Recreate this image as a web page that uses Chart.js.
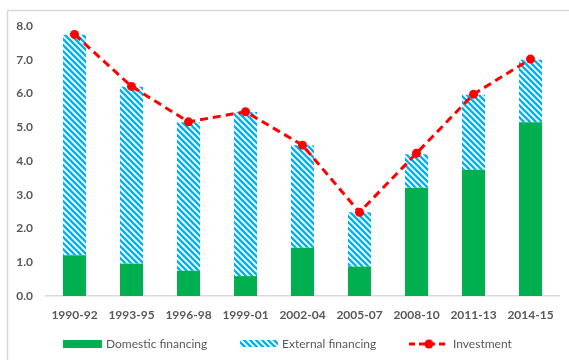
<!DOCTYPE html>
<html>
<head>
<meta charset="utf-8">
<script src="https://cdn.jsdelivr.net/npm/chart.js@4/dist/chart.umd.min.js"></script>
<style>
  html, body { margin: 0; padding: 0; background: #ffffff; }
  #wrap { width: 569px; height: 360px; position: relative; }
</style>
</head>
<body>
<div id="wrap"><canvas id="c" width="569" height="360"></canvas></div>
<script>
// Three-year averages, % of GDP
const categories = ['1990-92', '1993-95', '1996-98', '1999-01', '2002-04', '2005-07', '2008-10', '2011-13', '2014-15'];
const domesticFinancing = [1.21, 0.96, 0.75, 0.59, 1.43, 0.87, 3.21, 3.74, 5.15];
const externalFinancing = [6.53, 5.24, 4.40, 4.86, 3.04, 1.61, 0.99, 2.22, 1.85];
const investment = [7.75, 6.21, 5.16, 5.46, 4.47, 2.48, 4.23, 5.98, 7.02];
const yTickLabels = ['0.0', '1.0', '2.0', '3.0', '4.0', '5.0', '6.0', '7.0', '8.0'];

const GREEN = '#00B050';
const BLUE = '#00B0F0';
const RED = '#FF0000';
const TEXT = '#595959';
const FRAME = '#D9D9D9';
const FONT = 'Lato, "Open Sans", "DejaVu Sans", sans-serif';

// Downward-diagonal hatch fill
function makeHatch() {
  const p = 6;
  const c = document.createElement('canvas');
  c.width = p; c.height = p;
  const g = c.getContext('2d');
  g.strokeStyle = BLUE;
  g.lineWidth = 2.4;
  g.lineCap = 'square';
  for (const k of [-p, 0, p]) {
    g.beginPath();
    g.moveTo(k - 1, -1);
    g.lineTo(k + p + 1, p + 1);
    g.stroke();
  }
  return g.createPattern(c, 'repeat');
}
const hatch = makeHatch();

// Light border around the figure
const framePlugin = {
  id: 'frame',
  beforeDraw(chart) {
    const ctx = chart.ctx;
    ctx.save();
    ctx.strokeStyle = FRAME;
    ctx.lineWidth = 1.5;
    ctx.beginPath();
    ctx.moveTo(7.5, 360);
    ctx.lineTo(7.5, 10.5);
    ctx.lineTo(569, 10.5);
    ctx.stroke();
    ctx.restore();
  }
};

// Legend row along the bottom
const legendPlugin = {
  id: 'bottomLegend',
  afterDraw(chart) {
    const ctx = chart.ctx;
    const ds = chart.data.datasets;
    const y = 344;
    ctx.save();
    ctx.font = '12px ' + FONT;
    ctx.fillStyle = TEXT;
    ctx.textBaseline = 'middle';

    // Domestic financing
    ctx.fillStyle = ds[0].backgroundColor;
    ctx.fillRect(63, y - 4, 39, 8);
    ctx.fillStyle = TEXT;
    ctx.fillText(ds[0].label, 106, y + 0.5);

    // External financing
    ctx.fillStyle = ds[1].backgroundColor;
    ctx.fillRect(240, y - 4, 38, 7);
    ctx.fillStyle = TEXT;
    ctx.fillText(ds[1].label, 282, y + 0.5);

    // Investment
    ctx.strokeStyle = ds[2].borderColor;
    ctx.lineWidth = 3;
    ctx.setLineDash([6, 4]);
    ctx.beginPath();
    ctx.moveTo(409, y);
    ctx.lineTo(449, y);
    ctx.stroke();
    ctx.setLineDash([]);
    ctx.fillStyle = ds[2].borderColor;
    ctx.beginPath();
    ctx.arc(429, y, 4.5, 0, Math.PI * 2);
    ctx.fill();
    ctx.fillStyle = TEXT;
    ctx.fillText(ds[2].label, 453, y + 0.5);
    ctx.restore();
  }
};

new Chart(document.getElementById('c'), {
  type: 'bar',
  data: {
    labels: categories,
    datasets: [
      {
        label: 'Domestic financing',
        data: domesticFinancing,
        backgroundColor: GREEN,
        stack: 'fin',
        order: 1,
        categoryPercentage: 1,
        barPercentage: 0.405
      },
      {
        label: 'External financing',
        data: externalFinancing,
        backgroundColor: hatch,
        stack: 'fin',
        order: 1,
        categoryPercentage: 1,
        barPercentage: 0.405
      },
      {
        type: 'line',
        label: 'Investment',
        data: investment,
        borderColor: RED,
        backgroundColor: RED,
        borderWidth: 3,
        borderDash: [8, 5],
        pointRadius: 4.5,
        pointBackgroundColor: RED,
        pointBorderWidth: 0,
        tension: 0,
        fill: false,
        stack: 'inv',
        order: 0
      }
    ]
  },
  options: {
    responsive: false,
    animation: false,
    layout: { padding: { left: 0, right: 10, top: 26, bottom: 0 } },
    plugins: {
      legend: { display: false },
      tooltip: { enabled: false }
    },
    scales: {
      x: {
        stacked: true,
        grid: { display: false, drawTicks: false },
        border: { display: true, color: FRAME, width: 1.5 },
        ticks: {
          color: TEXT,
          font: { family: FONT, size: 12, weight: 'bold' },
          padding: 12,
          maxRotation: 0
        },
        afterFit(scale) { scale.height = 64; }
      },
      y: {
        stacked: true,
        min: 0,
        max: 8,
        grid: { display: false, drawTicks: false },
        border: { display: false },
        ticks: {
          stepSize: 1,
          color: TEXT,
          font: { family: FONT, size: 12, weight: 'bold' },
          padding: 13,
          callback: (v, i) => yTickLabels[i]
        },
        afterFit(scale) { scale.width = 46; }
      }
    }
  },
  plugins: [framePlugin, legendPlugin]
});
</script>
</body>
</html>
